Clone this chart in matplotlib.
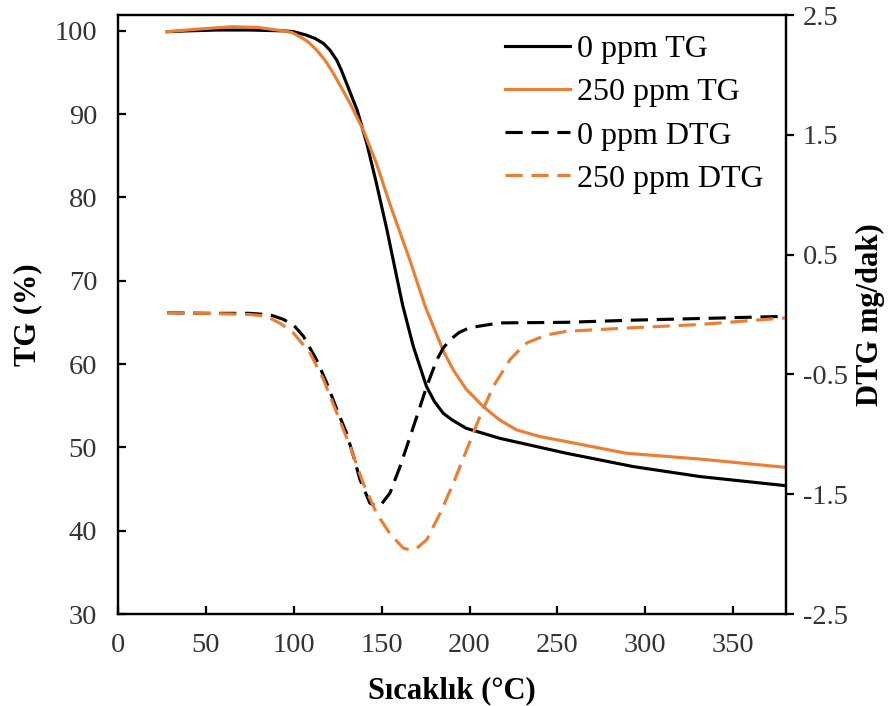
import matplotlib
matplotlib.use("Agg")
import matplotlib.pyplot as plt

# 0 ppm TG
t_tg0 = [28, 40, 56, 75, 94, 100, 107, 112, 116.8, 120.5, 124.4, 127, 130, 136, 141.5,
         147, 153, 158.5, 162, 168, 175.5, 180, 185, 190, 198, 217, 255, 293, 331, 380]
tg0 = [99.9, 100.0, 100.1, 100.1, 100.0, 99.9, 99.5, 99.1, 98.5, 97.7, 96.5, 95.3, 93.7,
       90.5, 86.5, 81.7, 76.1, 70.5, 67.0, 62.1, 57.3, 55.5, 54.1, 53.3, 52.3, 51.1,
       49.3, 47.7, 46.5, 45.4]

# 250 ppm TG
t_tg250 = [28, 45, 65, 80, 94, 99, 103.5, 108, 113, 118, 122.5, 127, 132, 139.5, 147,
           155, 166, 174.6, 179.4, 185, 190.7, 198, 207.8, 217, 226.8, 240, 255, 289,
           331, 380]
tg250 = [99.9, 100.2, 100.5, 100.4, 100.0, 99.8, 99.3, 98.7, 97.7, 96.4, 94.9, 93.2,
         91.3, 88.1, 84.1, 79.0, 72.5, 67.0, 64.5, 61.6, 59.3, 57.0, 54.9, 53.3, 52.1,
         51.3, 50.7, 49.3, 48.6, 47.6]

# 0 ppm DTG
t_dtg0 = [28, 50, 75, 84, 88, 94, 100, 105.4, 113, 118.7, 124.4, 130, 134, 137.7,
          143.3, 147.1, 150, 154.7, 160.4, 165, 170, 175.6, 181.3, 185, 189, 194, 200,
          217, 255, 293, 340, 380]
dtg0 = [0.015, 0.01, 0.01, 0.0, -0.01, -0.04, -0.09, -0.18, -0.38, -0.57, -0.79, -0.99,
        -1.185, -1.38, -1.575, -1.60, -1.58, -1.49, -1.27, -1.07, -0.85, -0.60, -0.38,
        -0.28, -0.21, -0.15, -0.11, -0.07, -0.065, -0.047, -0.03, -0.015]

# 250 ppm DTG
t_dtg250 = [28, 50, 75, 82, 86.5, 93, 99.7, 109.2, 116.8, 124.4, 132, 139.5, 147.1,
            154.7, 162.3, 166.1, 170, 175.6, 183.2, 190.7, 198.3, 205.9, 213.5, 223,
            228, 232.5, 243.9, 255.2, 293, 331, 380]
dtg250 = [0.015, 0.01, 0.0, -0.01, -0.03, -0.08, -0.153, -0.32, -0.54, -0.82, -1.10,
          -1.41, -1.66, -1.83, -1.95, -1.965, -1.95, -1.88, -1.66, -1.41, -1.13, -0.85,
          -0.60, -0.376, -0.30, -0.237, -0.17, -0.14, -0.11, -0.083, -0.028]

x_ticks = [0, 50, 100, 150, 200, 250, 300, 350]
tg_ticks = [30, 40, 50, 60, 70, 80, 90, 100]
dtg_ticks = [-2.5, -1.5, -0.5, 0.5, 1.5, 2.5]

ORANGE = "#ED7D31"
TICK_COL = "#333333"
plt.rcParams["font.family"] = ["Liberation Serif", "DejaVu Serif"]

fig = plt.figure(figsize=(8.92, 7.06), dpi=100)
ax = fig.add_axes([0.1323, 0.1303, 0.7489, 0.8484])
ax2 = ax.twinx()

lw = 2.25
dash = (0, (5.5, 2.8))
kw = dict(lw=lw, solid_joinstyle="round", dash_joinstyle="round")
l1, = ax.plot(t_tg0, tg0, color="black", label="0 ppm TG", **kw)
l2, = ax.plot(t_tg250, tg250, color=ORANGE, label="250 ppm TG", **kw)
l3, = ax2.plot(t_dtg0, dtg0, color="black", ls=dash, label="0 ppm DTG", **kw)
l4, = ax2.plot(t_dtg250, dtg250, color=ORANGE, ls=dash, label="250 ppm DTG", **kw)

ax.set_xlim(0, 380)
ax.set_ylim(30, 101.9)
ax2.set_ylim(-2.5, 2.5)
ax.set_xticks(x_ticks)
ax.set_yticks(tg_ticks)
ax2.set_yticks(dtg_ticks)
ax2.set_yticklabels([str(v) for v in dtg_ticks])

for sp in list(ax.spines.values()) + list(ax2.spines.values()):
    sp.set_linewidth(1.6)
    sp.set_color("black")

ax.tick_params(axis="x", direction="in", length=6, width=1.6,
               labelsize=20.5, labelcolor=TICK_COL, pad=13.5)
ax.tick_params(axis="y", direction="in", length=6, width=1.6,
               labelsize=20.5, labelcolor=TICK_COL, pad=15)
ax2.tick_params(axis="y", direction="out", length=6, width=1.6,
                labelsize=20.5, labelcolor=TICK_COL, pad=6)

ax.set_xlabel("Sıcaklık (°C)", fontsize=22, fontweight="bold", labelpad=13)
ax.set_ylabel("TG (%)", fontsize=22, fontweight="bold", labelpad=9)
ax2.set_ylabel("DTG mg/dak)", fontsize=22, fontweight="bold", labelpad=6)

ax2.legend(handles=[l1, l2, l3, l4], loc="upper left",
           bbox_to_anchor=(505 / 892, 1 - 35 / 706), bbox_transform=fig.transFigure,
           frameon=False, fontsize=23, handlelength=2.05, handletextpad=0.2,
           labelspacing=0.43, borderpad=0, borderaxespad=0)

fig.savefig("out.png", dpi=100)
plt.close(fig)
